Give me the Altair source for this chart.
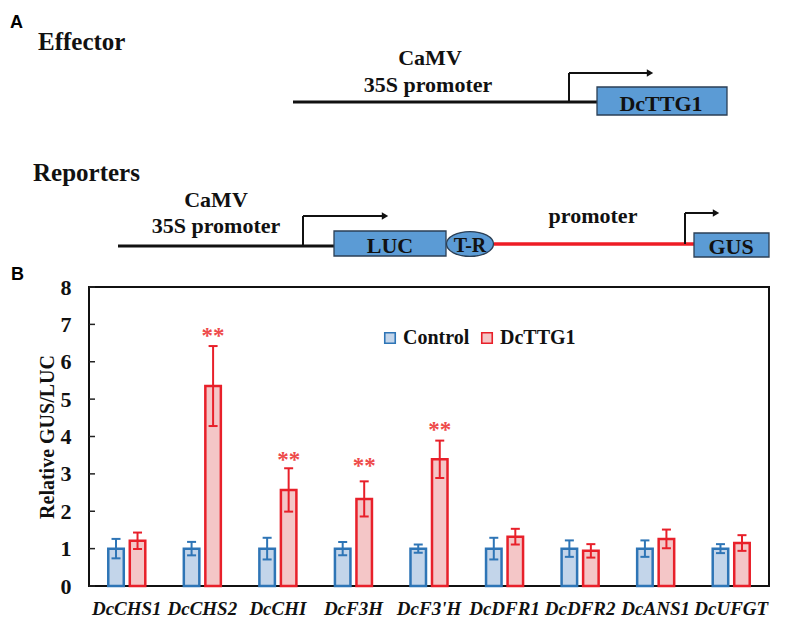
import altair as alt
import pandas as pd

SERIF = "Liberation Serif"
SANS = "Liberation Sans"

# ---------------- data (panel B) ----------------
genes = ["DcCHS1", "DcCHS2", "DcCHI", "DcF3H", "DcF3'H", "DcDFR1", "DcDFR2", "DcANS1", "DcUFGT"]
groups = ["Control", "DcTTG1"]
control_mean = [1.0, 1.0, 1.0, 1.0, 1.0, 1.0, 1.0, 1.0, 1.0]
control_sd = [0.26, 0.18, 0.29, 0.18, 0.11, 0.29, 0.22, 0.22, 0.12]
ttg1_mean = [1.21, 5.35, 2.57, 2.33, 3.39, 1.32, 0.94, 1.26, 1.15]
ttg1_sd = [0.22, 1.07, 0.58, 0.47, 0.50, 0.21, 0.18, 0.25, 0.21]
sig_genes = ["DcCHS2", "DcCHI", "DcF3H", "DcF3'H"]
sig_y = [6.77, 3.46, 3.30, 4.25]
y_ticks = [0, 1, 2, 3, 4, 5, 6, 7, 8]
y_title = "Relative GUS/LUC"

CTRL_STROKE = "#2E75B6"
RED_STROKE = "#E8202A"
CTRL_FILL = "#c3d5ea"
RED_FILL = "#f4c6c7"
STAR = "#EE4B4B"

rows = []
for g, m, s in zip(genes, control_mean, control_sd):
    rows.append({"gene": g, "group": "Control", "mean": m, "lo": m - s, "hi": m + s, "sc": CTRL_STROKE})
for g, m, s in zip(genes, ttg1_mean, ttg1_sd):
    rows.append({"gene": g, "group": "DcTTG1", "mean": m, "lo": m - s, "hi": m + s, "sc": RED_STROKE})
df = pd.DataFrame(rows)
caps = pd.concat([
    df[["gene", "group", "sc"]].assign(v=df["hi"]),
    df[["gene", "group", "sc"]].assign(v=df["lo"]),
])
stars = pd.DataFrame({"gene": sig_genes, "group": "DcTTG1", "sy": sig_y, "t": "**"})
ticks_df = pd.DataFrame({"t": y_ticks})

# ---------------- diagram (panel A), in picture pixel units ----------------
seg_x = [293, 569, 569, 118, 303, 303, 494, 685, 685]
seg_x2 = [597, 569, 647, 334, 303, 382, 694, 685, 713]
seg_y = [102, 102, 73, 246, 246, 216, 244, 244, 213]
seg_y2 = [102, 73, 73, 246, 216, 216, 244, 213, 213]
seg_c = ["#111", "#111", "#111", "#111", "#111", "#111", "#EE1C25", "#111", "#111"]
seg_w = [3, 2, 2, 3, 2, 2, 3.5, 2, 2]
head_x = [650, 385, 716]
head_y = [73, 216, 213]
box_x = [597, 334, 694]
box_x2 = [727, 446, 769]
box_y = [87, 231, 233]
box_y2 = [115, 256, 257]
ell_x = [470]
ell_y = [244]
ctext = ["CaMV", "35S promoter", "CaMV", "35S promoter", "promoter", "DcTTG1", "LUC", "T-R", "GUS"]
ctext_x = [430, 428, 216, 216, 593, 661, 390, 470, 731]
ctext_y = [65, 92, 207, 233, 223, 111, 253, 252, 254]
ctext_s = [22, 22, 22, 22, 22, 22, 22, 20, 22]
ltext = ["Effector", "Reporters"]
ltext_x = [38, 33]
ltext_y = [50, 181]
ptext = ["A", "B"]
ptext_x = [10, 11]
ptext_y = [28, 280]

W, H = 680, 299
SX = alt.Scale(domain=[89, 769], nice=False, zero=False)
SY = alt.Scale(domain=[287, 586], reverse=True, nice=False, zero=False)


def X(f):
    return alt.X(f, scale=SX, axis=None)


def Y(f):
    return alt.Y(f, scale=SY, axis=None)


segs = pd.DataFrame({"x": seg_x, "x2": seg_x2, "y": seg_y, "y2": seg_y2, "c": seg_c, "w": seg_w})
lines = alt.Chart(segs).mark_rule().encode(
    x=X("x:Q"), x2="x2:Q", y=Y("y:Q"), y2="y2:Q",
    color=alt.Color("c:N", scale=None), size=alt.Size("w:Q", scale=None))
heads = alt.Chart(pd.DataFrame({"x": head_x, "y": head_y})).mark_point(
    shape="triangle-right", filled=True, size=55, color="#111", opacity=1).encode(x=X("x:Q"), y=Y("y:Q"))
boxes = alt.Chart(pd.DataFrame({"x": box_x, "x2": box_x2, "y": box_y, "y2": box_y2})).mark_rect(
    fill="#5B9BD5", stroke="#2b3f55", strokeWidth=1.3).encode(x=X("x:Q"), x2="x2:Q", y=Y("y:Q"), y2="y2:Q")
ellipse = alt.Chart(pd.DataFrame({"x": ell_x, "y": ell_y})).mark_point(
    shape="M -1 0 A 1 0.53 0 1 0 1 0 A 1 0.53 0 1 0 -1 0 Z", size=2209, filled=True,
    fill="#5B9BD5", stroke="#2b3f55", strokeWidth=1.3, opacity=1).encode(x=X("x:Q"), y=Y("y:Q"))
ctexts = alt.Chart(pd.DataFrame({"t": ctext, "x": ctext_x, "y": ctext_y, "s": ctext_s})).mark_text(
    font=SERIF, fontWeight="bold", color="#111", align="center", baseline="alphabetic").encode(
    x=X("x:Q"), y=Y("y:Q"), text="t:N", size=alt.Size("s:Q", scale=None))
ltexts = alt.Chart(pd.DataFrame({"t": ltext, "x": ltext_x, "y": ltext_y})).mark_text(
    font=SERIF, fontWeight="bold", fontSize=25, color="#111", align="left", baseline="alphabetic").encode(
    x=X("x:Q"), y=Y("y:Q"), text="t:N")
ptexts = alt.Chart(pd.DataFrame({"t": ptext, "x": ptext_x, "y": ptext_y})).mark_text(
    font=SANS, fontWeight="bold", fontSize=18, color="#000", align="left", baseline="alphabetic").encode(
    x=X("x:Q"), y=Y("y:Q"), text="t:N")
anchor = alt.Chart(pd.DataFrame({"x": [8.6], "y": [8.6]})).mark_point(
    size=1, opacity=0, filled=True).encode(x=X("x:Q"), y=Y("y:Q"))

schem = alt.layer(anchor, lines, heads, boxes, ellipse, ctexts, ltexts, ptexts)

# ---------------- bar chart ----------------
xaxis = alt.Axis(labelFont=SERIF, labelFontSize=19, labelFontStyle="italic",
                 labelFontWeight="bold", labelColor="#111", ticks=False, tickSize=0,
                 domain=False, labelPadding=13, labelAngle=0)
xenc = alt.X("gene:N", sort=genes, title=None,
             scale=alt.Scale(paddingInner=0.51, paddingOuter=0.255), axis=xaxis)
xoff = alt.XOffset("group:N", sort=groups, scale=alt.Scale(domain=groups, paddingInner=0.279, paddingOuter=0))
yscale = alt.Scale(domain=[0, 8], nice=False, zero=True)
yaxis = alt.Axis(values=y_ticks, grid=False, ticks=False, tickSize=0, domain=False,
                 labelOverlap=False, labelFont=SERIF, labelFontSize=22, labelFontWeight="bold",
                 labelColor="#111", labelPadding=18, title=y_title, titleFont=SERIF, titleFontSize=20,
                 titleFontWeight="bold", titleColor="#111", titlePadding=3)


def YB(f):
    return alt.Y(f, scale=yscale, axis=yaxis)


leg = alt.Legend(orient="none", legendX=291, legendY=41, direction="horizontal", title=None,
                 symbolType="square", symbolSize=110, symbolStrokeWidth=1.6,
                 labelFont=SERIF, labelFontSize=20, labelFontWeight="bold", labelColor="#111",
                 labelOffset=3, columnPadding=7, padding=0)

bar = alt.Chart(df).mark_bar(strokeWidth=2.5).encode(
    x=xenc, xOffset=xoff, y=YB("mean:Q"),
    fill=alt.Fill("group:N", scale=alt.Scale(domain=groups, range=[CTRL_FILL, RED_FILL]), legend=leg),
    stroke=alt.Stroke("group:N", scale=alt.Scale(domain=groups, range=[CTRL_STROKE, RED_STROKE]), legend=leg),
)
err = alt.Chart(df).mark_rule(strokeWidth=2).encode(
    x=xenc, xOffset=xoff, y=YB("lo:Q"), y2="hi:Q",
    color=alt.Color("sc:N", scale=None))
capm = alt.Chart(caps).mark_tick(thickness=2, size=9, opacity=1).encode(
    x=xenc, xOffset=xoff, y=YB("v:Q"),
    color=alt.Color("sc:N", scale=None))
starm = alt.Chart(stars).mark_text(font=SERIF, fontSize=23, fontWeight="bold", color=STAR,
                                   baseline="alphabetic", dy=10).encode(
    x=xenc, xOffset=xoff, y=YB("sy:Q"), text="t:N")
ytk = alt.Chart(ticks_df).mark_rule(strokeWidth=1.5, color="#222").encode(
    y=YB("t:Q"), x=alt.value(0), x2=alt.value(6))

bars = alt.layer(bar, err, capm, starm, ytk)

chart = alt.layer(bars, schem).resolve_scale(x="independent", y="independent").properties(
    width=W, height=H, padding=0,
    view=alt.ViewBackground(stroke="#111", strokeWidth=2, fill="white"),
).configure_view(stroke="#111", strokeWidth=2).configure(background="white").configure_axisY(
    labelFont=SERIF, labelFontSize=22, labelFontWeight="bold", labelOverlap=False
).configure_legend(labelFont=SERIF, labelFontSize=20, labelFontWeight="bold").configure_text(font=SERIF)

chart.save("out.html", embed_options={"renderer": "svg", "actions": False})
